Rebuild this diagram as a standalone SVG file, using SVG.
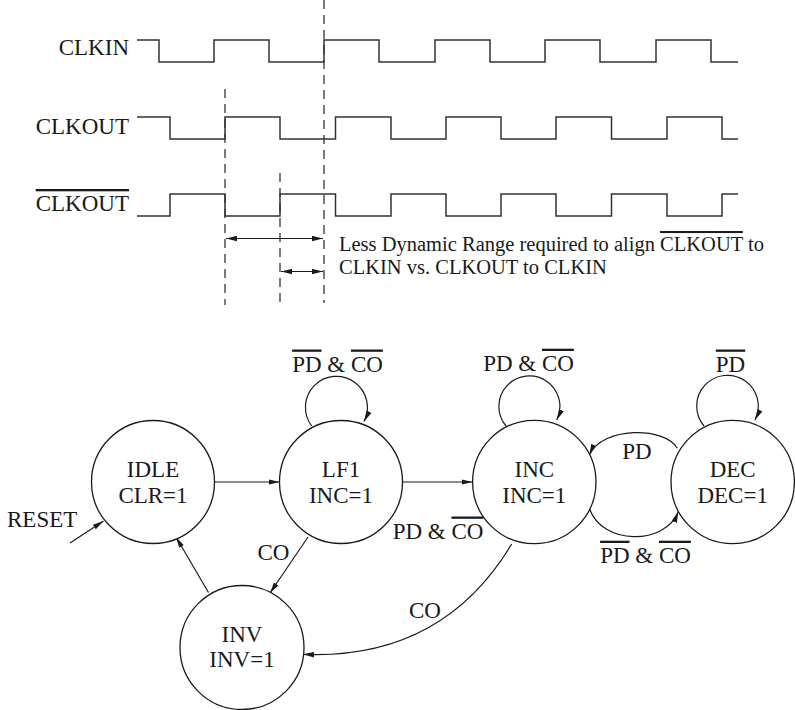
<svg xmlns="http://www.w3.org/2000/svg" width="795" height="710" viewBox="0 0 795 710">
<defs>
<marker id="ah" markerUnits="userSpaceOnUse" markerWidth="12" markerHeight="6" refX="11" refY="3" orient="auto-start-reverse">
<path d="M0,0.3 L11,3 L0,5.7 z" fill="#1a1a1a"/>
</marker>
</defs>
<style>
text{font-family:"Liberation Serif","Times New Roman",serif;fill:#1a1a1a}
.lbl{font-size:23px}
.st{font-size:23px;text-anchor:middle}
.ann{font-size:20.5px}
.wave{fill:none;stroke:#333;stroke-width:1.5}
.dash{fill:none;stroke:#333;stroke-width:1.3;stroke-dasharray:9,6}
.edge{fill:none;stroke:#1a1a1a;stroke-width:1.2}
.node{fill:#fff;stroke:#1a1a1a;stroke-width:1.3}
.ov{text-decoration:overline}
</style>
<rect width="795" height="710" fill="#fff"/>

<g id="timing">
<text class="lbl" x="129" y="55" text-anchor="end">CLKIN</text>
<text class="lbl" x="129" y="133.5" text-anchor="end">CLKOUT</text>
<text class="lbl" x="129" y="211" text-anchor="end"><tspan class="ov">CLKOUT</tspan></text>
<path class="wave" d="M137,40 H159 V62 H214 V40 H269 V62 H324 V40 H379 V62 H435 V40 H490 V62 H545 V40 H600 V62 H656 V40 H711 V62 H738"/>
<path class="wave" d="M137,117 H170 V139 H225 V117 H280 V139 H335.5 V117 H391 V139 H446 V117 H501 V139 H556 V117 H611.5 V139 H667 V117 H722 V139 H738"/>
<path class="wave" d="M137,216 H170 V194 H225 V216 H280 V194 H335.5 V216 H391 V194 H446 V216 H501 V194 H556 V216 H611.5 V194 H667 V216 H722 V194 H738"/>
<line class="dash" x1="324" y1="0" x2="324" y2="303"/>
<line class="dash" x1="225" y1="89" x2="225" y2="305"/>
<line class="dash" x1="280" y1="173" x2="280" y2="305"/>
<line class="edge" x1="226" y1="238.5" x2="323" y2="238.5" marker-start="url(#ah)" marker-end="url(#ah)"/>
<line class="edge" x1="281" y1="271.5" x2="323" y2="271.5" marker-start="url(#ah)" marker-end="url(#ah)"/>
<text class="ann" x="339" y="251">Less Dynamic Range required to align <tspan class="ov">CLKOUT</tspan> to</text>
<text class="ann" x="339" y="273.5">CLKIN vs. CLKOUT to CLKIN</text>
</g>

<g id="connectors">
<line class="edge" x1="214.5" y1="482" x2="279.5" y2="482" marker-end="url(#ah)"/>
<line class="edge" x1="402.5" y1="482" x2="472.5" y2="482" marker-end="url(#ah)"/>
<line class="edge" x1="70" y1="543" x2="103.5" y2="521" marker-end="url(#ah)"/>
<line class="edge" x1="308" y1="537" x2="270" y2="593" marker-end="url(#ah)"/>
<line class="edge" x1="208.5" y1="592.5" x2="176" y2="537" marker-end="url(#ah)"/>
<path class="edge" d="M311.7,426 A31,31 0 1,1 364,421.5" marker-end="url(#ah)"/>
<path class="edge" d="M506,426 A30.5,30.5 0 1,1 556.7,420" marker-end="url(#ah)"/>
<path class="edge" d="M704,426 A30.8,30.8 0 1,1 755,420" marker-end="url(#ah)"/>
<path class="edge" d="M677.3,448.3 C665,426.4 602,426.4 589.3,455" marker-end="url(#ah)"/>
<path class="edge" d="M589.3,508.3 C602,545.5 665,545.5 678.3,511.7" marker-end="url(#ah)"/>
<path class="edge" d="M511.7,544 Q442,660 303,654.3" marker-end="url(#ah)"/>
<text class="st" x="337.5" y="371.5"><tspan class="ov">PD</tspan> &amp; <tspan class="ov">CO</tspan></text>
<text class="st" x="528.5" y="370.7">PD &amp; <tspan class="ov">CO</tspan></text>
<text class="st" x="730.5" y="371.5"><tspan class="ov">PD</tspan></text>
<text class="st" x="637" y="459">PD</text>
<text class="st" x="645.5" y="562.7"><tspan class="ov">PD</tspan> &amp; <tspan class="ov">CO</tspan></text>
<text class="st" x="438" y="538.5">PD &amp; <tspan class="ov">CO</tspan></text>
<text class="st" x="273.5" y="560">CO</text>
<text class="st" x="425" y="617.5">CO</text>
<text class="lbl" x="7" y="526.7">RESET</text>
</g>

<g id="idle">
<circle class="node" cx="153" cy="482" r="61.5"/>
<text class="st" x="153" y="476.5">IDLE</text>
<text class="st" x="153" y="502.5">CLR=1</text>
</g>
<g id="lf1">
<circle class="node" cx="341" cy="482" r="61.5"/>
<text class="st" x="341" y="476.5">LF1</text>
<text class="st" x="341" y="502.5">INC=1</text>
</g>
<g id="inc">
<circle class="node" cx="534.3" cy="482" r="61.7"/>
<text class="st" x="534.3" y="476.5">INC</text>
<text class="st" x="534.3" y="502.5">INC=1</text>
</g>
<g id="dec">
<circle class="node" cx="732.7" cy="482" r="61.7"/>
<text class="st" x="732.7" y="476.5">DEC</text>
<text class="st" x="732.7" y="502.5">DEC=1</text>
</g>
<g id="inv">
<circle class="node" cx="242" cy="647.5" r="62"/>
<text class="st" x="242" y="641.7">INV</text>
<text class="st" x="242" y="666.7">INV=1</text>
</g>
</svg>
